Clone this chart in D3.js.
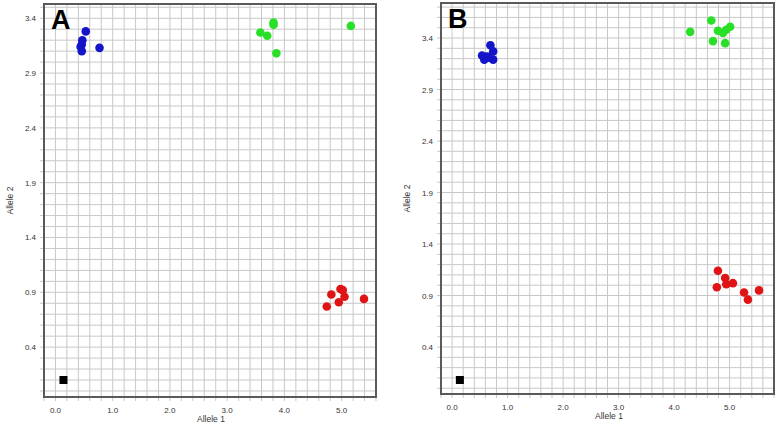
<!DOCTYPE html>
<html lang="en">
  <head>
    <script src="https://d3js.org/d3.v7.min.js"></script>
    <meta charset="utf-8">
    <title>Allele plots</title>
    <style>
      body { margin: 0; background: #fff; }
      text { font-family: "Liberation Sans", Arial, sans-serif; }
    </style>
  </head>
  <body>
    <svg id="chart" width="778" height="426"></svg>
    <script type="text/javascript">

    // panel A clusters [allele1, allele2]
    var blueA  = [[0.53,3.28],[0.47,3.20],[0.46,3.16],[0.44,3.14],[0.46,3.10],[0.77,3.13]];
    var greenA = [[3.81,3.36],[3.81,3.34],[3.58,3.27],[3.70,3.24],[3.86,3.08],[5.16,3.33]];
    var redA   = [[4.98,0.93],[4.82,0.88],[5.05,0.86],[4.95,0.81],[4.74,0.77],[5.39,0.84],[5.02,0.92]];
    var ntcA   = [[0.14,0.10]];

    // panel B clusters
    var blueB  = [[0.69,3.33],[0.74,3.27],[0.54,3.23],[0.63,3.22],[0.58,3.19],[0.74,3.19],[0.66,3.21]];
    var greenB = [[4.67,3.57],[4.29,3.46],[4.79,3.47],[4.88,3.45],[5.01,3.51],[4.94,3.48],[4.70,3.37],[4.92,3.35]];
    var redB   = [[4.79,1.14],[4.92,1.07],[4.94,1.01],[5.06,1.02],[4.77,0.98],[5.26,0.93],[5.53,0.95],[5.33,0.86]];
    var ntcB   = [[0.14,0.08]];

    var xTicks = [0, 1, 2, 3, 4, 5];
    var yTicks = [0.4, 0.9, 1.4, 1.9, 2.4, 2.9, 3.4];

    var svg = d3.select("#chart");

    var drawPanel = function(opt)
    {
      var g = svg.append("g");
      var x = d3.scaleLinear().domain(opt.xDom).range([opt.left, opt.right]);
      var y = d3.scaleLinear().domain(opt.yDom).range([opt.bottom, opt.top]);

      // grid: x every 0.2, y every 0.1
      var xg = d3.range(Math.round(opt.xDom[0]*5), Math.round(opt.xDom[1]*5)+1).map(function(d){ return d/5; });
      var yg = d3.range(0, Math.floor(opt.yDom[1]*10)+1).map(function(d){ return d/10; });

      g.selectAll(".vg").data(xg).enter().append("line")
        .attr("x1", function(d){ return x(d); }).attr("x2", function(d){ return x(d); })
        .attr("y1", opt.top).attr("y2", opt.bottom + 4)
        .attr("stroke", "#c8c8c8").attr("stroke-width", 1);
      g.selectAll(".hg").data(yg).enter().append("line")
        .attr("y1", function(d){ return y(d); }).attr("y2", function(d){ return y(d); })
        .attr("x1", opt.left - 4).attr("x2", opt.right)
        .attr("stroke", "#c8c8c8").attr("stroke-width", 1);

      // frame
      g.append("rect")
        .attr("x", opt.left).attr("y", opt.top)
        .attr("width", opt.right - opt.left).attr("height", opt.bottom - opt.top)
        .attr("fill", "none").attr("stroke", "#5a5a5a").attr("stroke-width", 2);

      // tick labels
      g.selectAll(".xl").data(xTicks).enter().append("text")
        .attr("x", function(d){ return x(d); })
        .attr("y", opt.bottom + 16)
        .attr("text-anchor", "middle")
        .attr("font-size", 8).attr("fill", "#333")
        .text(function(d){ return d3.format(".1f")(d); });
      g.selectAll(".yl").data(yTicks).enter().append("text")
        .attr("x", opt.left - 8)
        .attr("y", function(d){ return y(d) + 3; })
        .attr("text-anchor", "end")
        .attr("font-size", 8).attr("fill", "#333")
        .text(function(d){ return d3.format(".1f")(d); });

      // axis titles
      g.append("text")
        .attr("x", opt.xTitleX).attr("y", opt.bottom + 25)
        .attr("font-size", 8.5).attr("fill", "#333")
        .text("Allele 1");
      g.append("text")
        .attr("transform", "translate(" + (opt.left - 31) + "," + ((opt.top + opt.bottom)/2) + ") rotate(-90)")
        .attr("text-anchor", "middle")
        .attr("font-size", 8.5).attr("fill", "#333")
        .text("Allele 2");

      // points
      var dots = function(data, color)
      {
        g.selectAll(null).data(data).enter().append("circle")
          .attr("cx", function(d){ return x(d[0]); })
          .attr("cy", function(d){ return y(d[1]); })
          .attr("r", 4.3)
          .attr("fill", color);
      };
      dots(opt.blue, "#1414c8");
      dots(opt.green, "#28e028");
      dots(opt.red, "#e01414");

      g.selectAll(null).data(opt.ntc).enter().append("rect")
        .attr("x", function(d){ return x(d[0]) - 4; })
        .attr("y", function(d){ return y(d[1]) - 4; })
        .attr("width", 8).attr("height", 8)
        .attr("fill", "#000");

      // panel letter
      g.append("text")
        .attr("x", opt.left + 7).attr("y", opt.top + 25)
        .attr("font-size", 27).attr("font-weight", "bold").attr("fill", "#000")
        .text(opt.letter);
    }

    drawPanel({
      letter: "A", left: 44, right: 376, top: 4, bottom: 397,
      xDom: [-0.2, 5.6], yDom: [-0.055, 3.53], xTitleX: 197,
      blue: blueA, green: greenA, red: redA, ntc: ntcA
    });
    drawPanel({
      letter: "B", left: 441, right: 774, top: 3, bottom: 394,
      xDom: [-0.2, 5.8], yDom: [-0.056, 3.74], xTitleX: 595,
      blue: blueB, green: greenB, red: redB, ntc: ntcB
    });

    </script>
  </body>
</html>
